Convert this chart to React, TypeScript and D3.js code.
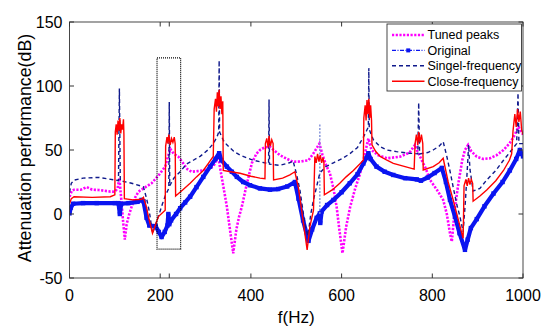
import * as d3 from "d3";

// f (Hz), attenuation (dB)
const tunedPeaks: [number, number][] = [
  [0, 13.5], [5, 18], [10, 19], [25, 19], [38, 21], [50, 19], [64, 18.8], [90, 17.5], [100, 17.4],
  [106, 20], [110, 28], [114, 12], [118, -5], [122, -20], [126, -8], [131, -1], [137, 5.7], [145, 13],
  [152, 17.4], [163, 20], [181, 24], [196, 30], [211, 37], [222, 51], [230, 47], [240, 44.8], [250, 40],
  [260, 35], [269, 33], [282, 33.5], [295, 34], [317, 37], [328, 44.8], [335, 30], [342, 16], [347, 5.7],
  [353, -10], [361, -30.7], [368, -12], [374, -2], [380, 5.7], [390, 22], [402, 39.6], [412, 47],
  [420, 50], [430, 52], [442, 52.6], [450, 50], [464, 46], [480, 43], [493, 40.8], [510, 41], [527, 42],
  [538, 47.4], [546, 52], [551, 55], [558, 46], [566, 38], [574, 32], [582, 20], [589, 5.7], [595, -12],
  [602, -30.7], [610, -10], [619, 5.7], [630, 20], [641, 31.8], [650, 45], [659, 59], [666, 50],
  [680, 46], [700, 43.5], [729, 44.8], [750, 48], [762, 54], [766, 50], [773, 44.8], [785, 36],
  [795, 26.6], [810, 19], [824, 11], [832, 0], [839, -15], [843, -21.6], [850, 5], [858, 25], [866, 42],
  [872, 50], [879, 54], [886, 49], [898, 44.8], [912, 43], [927, 43.5], [942, 46], [957, 50], [970, 55],
  [979, 60], [990, 68], [1000, 62],
];

const original: [number, number][] = [
  [0, 0.5], [3, 5], [8, 8], [30, 8.5], [60, 8.5], [100, 8.5], [108, 8.5], [111, 0], [114, 8], [130, 8.5],
  [150, 9.5], [159, 11], [163, 10], [170, -3], [176, -9], [190, -9.5], [197, -14], [203, -18], [210, -14],
  [216, -9], [218, 0], [220, -8], [224, -5], [235, 0], [244, 4.5], [255, 9], [266, 13.5], [280, 21],
  [295, 29], [310, 37], [322, 43], [330, 47.5], [335, 42], [347, 37], [358, 33], [369, 29], [383, 25],
  [398, 22.5], [420, 20], [442, 19], [460, 19.5], [480, 21.5], [497, 25], [505, 12], [515, -5], [527, -21],
  [535, -12], [545, -3], [552, 0.5], [553, -7], [556, 2], [568, 7], [582, 11], [600, 17], [618, 24],
  [635, 31], [648, 39.5], [655, 44], [659, 47.5], [664, 43], [677, 37], [695, 33], [714, 30.5], [740, 28],
  [766, 27], [775, 26], [790, 28.5], [805, 32], [821, 36], [830, 25], [839, 11], [850, -2], [860, -15],
  [872, -28], [878, -20], [885, -11], [898, -4], [915, 6], [935, 16], [955, 25], [971, 34], [985, 43],
  [993, 50], [1000, 45],
];

// narrow resonance of the original curve: f, from, to
const originalSpikes: [number, number, number][] = [[552, 0, 70]];

const singelFrequency: [number, number][] = [
  [0, 17], [4, 24], [10, 26.5], [30, 28], [64, 28.6], [100, 26.6], [108, 26], [110, 98], [112, 26],
  [137, 24], [163, 21.3], [170, 12], [176, 2], [183, -15], [190, -8], [196, -2], [205, 8], [212, 15],
  [219, 20], [220, 87.5], [221, 22], [230, 28], [244, 33], [258, 39], [273, 42], [288, 45], [305, 50],
  [317, 55], [325, 60], [329, 64], [330, 120], [331, 64], [340, 57], [347, 54], [362, 49], [376, 46],
  [405, 42], [430, 40], [439, 39.5], [440, 89.5], [441, 39], [464, 38], [485, 40], [493, 41.5], [500, 32],
  [508, 19], [515, 2], [520, -10], [526, -17], [532, 0], [538, 11], [552, 32], [565, 37], [582, 40],
  [600, 43], [618, 47], [635, 52], [648, 60], [655, 65], [659, 68], [660, 114], [661, 66], [670, 58],
  [685, 52.6], [700, 50], [721, 48.7], [750, 47.5], [768, 47], [770, 87], [772, 47], [790, 48], [802, 50],
  [815, 53], [824, 56.5], [832, 45], [840, 32], [846, 21], [855, 6], [861, -2], [868, -14], [873, 10],
  [878, 40], [880, 54], [883, 35], [890, 18], [905, 20], [920, 26.6], [940, 34], [957, 42], [975, 50],
  [986, 55], [989, 94.5], [991, 55], [1000, 55],
];

const closeFrequency: [number, number][] = [
  [0, 8], [4, 12], [10, 13.5], [50, 13], [90, 13.5], [100, 15], [101, 64], [103, 70], [105, 62], [107, 73],
  [109, 65], [111, 75], [113, 63], [115, 70], [117, 66], [119, 74], [120, 62], [121, 12], [140, 11],
  [159, 11.5], [163, 13], [170, 5], [174, -2], [183, -15], [190, -8], [196, -2], [211, 3], [212, 53],
  [215, 60], [217, 55], [219, 62], [222, 54], [225, 59], [228, 56], [231, 60], [233, 55], [234, 14],
  [250, 19], [266, 24], [280, 29], [295, 34], [307, 40], [317, 45], [319, 82], [322, 90], [324, 80],
  [326, 95], [328, 84], [330, 97], [332, 82], [334, 92], [336, 78], [338, 88], [339, 34], [355, 33],
  [376, 31.8], [400, 29.5], [420, 28], [431, 27.5], [432, 55], [435, 59], [438, 52], [440, 61], [443, 53],
  [446, 58], [449, 55], [450, 26.6], [470, 28], [486, 30.5], [497, 33], [505, 20], [515, -5], [524, -28],
  [530, -10], [538, 3], [541, 45], [544, 40], [547, 47], [550, 41], [553, 46], [556, 40], [559, 44],
  [561, 40], [562, 15], [580, 19], [596, 24], [610, 29], [626, 34], [640, 39], [648, 42], [649, 75],
  [652, 85], [654, 73], [656, 89], [658, 78], [660, 90], [662, 75], [664, 85], [666, 73], [667, 54],
  [675, 49], [685, 45], [700, 42], [714, 39.6], [740, 37], [760, 35], [762, 55], [765, 62], [768, 54],
  [770, 64], [773, 56], [776, 62], [779, 55], [780, 34.4], [802, 37], [815, 40], [824, 43.5], [835, 25],
  [846, 11], [857, -4], [868, -19], [870, 22], [874, 27], [877, 22], [880, 28], [883, 23], [886, 27],
  [889, 24], [890, 10], [905, 14], [920, 18.8], [940, 26], [957, 34], [970, 42], [975, 47], [978, 65],
  [982, 78], [985, 68], [988, 82], [991, 72], [994, 80], [997, 66], [1000, 62],
];

const xTicks = [0, 200, 400, 600, 800, 1000];
const xExtraTicks = [220];
const yTicks = [-50, 0, 50, 100, 150];
// dotted box marking the region of interest: f range and dB range
const boxF = [193, 245];
const boxV = [-27.5, 122];

const legendItems = ["Tuned peaks", "Original", "Singel-frequency", "Close-frequency"];

const width = 550;
const height = 336;
const marginLeft = 69.5;
const marginRight = 27;
const marginTop = 22;
const marginBottom = 58;
const font = "'Liberation Sans', Arial, sans-serif";

export default function App() {
  const x = d3.scaleLinear().domain([0, 1000]).range([marginLeft, width - marginRight]);
  const y = d3.scaleLinear().domain([-50, 150]).range([height - marginBottom, marginTop]);
  const line = d3.line<[number, number]>().x(d => x(d[0])).y(d => y(d[1]));

  const x0 = x(0), x1 = x(1000), y0 = y(-50), y1 = y(150);
  const tickLen = 4.5;

  const lx = 387, ly = 24, lw = 134.5, lh = 67;

  return (
    <div style={{ position: "fixed", left: 0, top: 0, background: "#fff" }}>
      <svg width={width} height={height} style={{ display: "block" }} fontFamily={font}>
        <rect width={width} height={height} fill="#fff" />
        <defs>
          <clipPath id="plot">
            <rect x={x0} y={y1} width={x1 - x0} height={y0 - y1} />
          </clipPath>
        </defs>

        <g clipPath="url(#plot)">
          <path d={line(tunedPeaks) || ""} fill="none" stroke="#ff00ff" strokeWidth={2.6}
            strokeDasharray="2.2 1.5" />
          <path d={line(original) || ""} fill="none" stroke="#0a14f0" strokeWidth={4.2}
            strokeLinejoin="round" />
          {original.map((d, i) => (
            <rect key={i} x={x(d[0]) - 2.2} y={y(d[1]) - 2.2} width={4.4} height={4.4} fill="#0a14f0" />
          ))}
          {originalSpikes.map((s, i) => (
            <line key={i} x1={x(s[0])} x2={x(s[0])} y1={y(s[1])} y2={y(s[2])} stroke="#7f8fd8"
              strokeWidth={1.4} strokeDasharray="2 1.5" />
          ))}
          <path d={line(singelFrequency) || ""} fill="none" stroke="#101a8c" strokeWidth={1.4}
            strokeDasharray="4 3" />
          <path d={line(closeFrequency) || ""} fill="none" stroke="#ff0000" strokeWidth={1.4} />
        </g>

        <rect x={x(boxF[0])} y={y(boxV[1])} width={x(boxF[1]) - x(boxF[0])} height={y(boxV[0]) - y(boxV[1])}
          fill="none" stroke="#000" strokeWidth={1.2} strokeDasharray="1 1" />

        {/* axes box */}
        <rect x={x0} y={y1} width={x1 - x0} height={y0 - y1} fill="none" stroke="#333" strokeWidth={0.9} />

        {[...xTicks, ...xExtraTicks].map(t => (
          <g key={"x" + t}>
            <line x1={x(t)} x2={x(t)} y1={y0} y2={y0 - tickLen} stroke="#333" />
            <line x1={x(t)} x2={x(t)} y1={y1} y2={y1 + tickLen} stroke="#333" />
          </g>
        ))}
        {xTicks.map(t => (
          <text key={"xl" + t} x={x(t)} y={301} textAnchor="middle" fontSize={16} fill="#000">{t}</text>
        ))}
        {yTicks.map(t => (
          <g key={"y" + t}>
            <line x1={x0} x2={x0 + tickLen} y1={y(t)} y2={y(t)} stroke="#333" />
            <line x1={x1} x2={x1 - tickLen} y1={y(t)} y2={y(t)} stroke="#333" />
            <text x={62.5} y={y(t) + 5.6} textAnchor="end" fontSize={16} fill="#000">{t}</text>
          </g>
        ))}

        <text x={(x0 + x1) / 2} y={323} textAnchor="middle" fontSize={17} fill="#000">f(Hz)</text>
        <text transform={`translate(30.5,${(y0 + y1) / 2 - 2}) rotate(-90)`} textAnchor="middle" fontSize={17.8}
          fill="#000">Attenuation performance(dB)</text>

        {/* legend */}
        <rect x={lx} y={ly} width={lw} height={lh} fill="#fff" stroke="#333" strokeWidth={0.9} />
        {legendItems.map((name, i) => {
          const yy = ly + 11 + i * 15.4;
          const sx0 = lx + 5, sx1 = lx + 37.5;
          return (
            <g key={name}>
              {i === 0 && <line x1={sx0} x2={sx1} y1={yy} y2={yy} stroke="#ff00ff" strokeWidth={2.6}
                strokeDasharray="2.2 1.5" />}
              {i === 1 && <>
                <line x1={sx0} x2={sx1} y1={yy} y2={yy} stroke="#0a14f0" strokeWidth={1.3}
                  strokeDasharray="4 1.5 1 1.5" />
                <rect x={(sx0 + sx1) / 2 - 2} y={yy - 2} width={4} height={4} fill="#0a14f0" />
              </>}
              {i === 2 && <line x1={sx0} x2={sx1} y1={yy} y2={yy} stroke="#101a8c" strokeWidth={1.4}
                strokeDasharray="4 3" />}
              {i === 3 && <line x1={sx0} x2={sx1} y1={yy} y2={yy} stroke="#ff0000" strokeWidth={1.4} />}
              <text x={lx + 40.5} y={yy + 4.4} fontSize={12.5} fill="#000">{name}</text>
            </g>
          );
        })}
      </svg>
    </div>
  );
}
